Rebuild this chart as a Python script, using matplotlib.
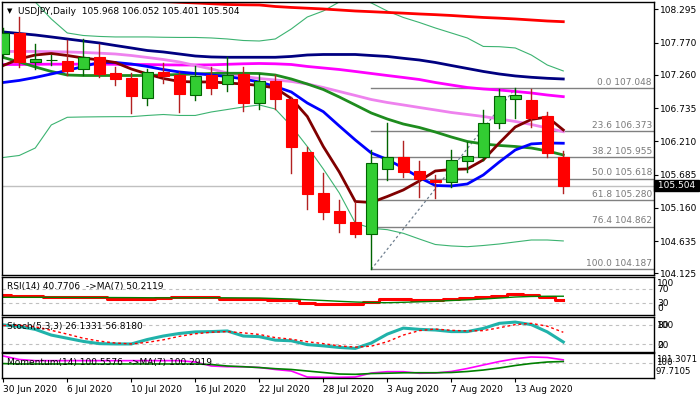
import numpy as np
import matplotlib.pyplot as plt
from matplotlib.patches import Rectangle

# daily bars, USDJPY
dates = ['30 Jun 2020', '1 Jul 2020', '2 Jul 2020', '3 Jul 2020', '6 Jul 2020', '7 Jul 2020',
         '8 Jul 2020', '9 Jul 2020', '10 Jul 2020', '13 Jul 2020', '14 Jul 2020', '15 Jul 2020',
         '16 Jul 2020', '17 Jul 2020', '20 Jul 2020', '21 Jul 2020', '22 Jul 2020', '23 Jul 2020',
         '24 Jul 2020', '27 Jul 2020', '28 Jul 2020', '29 Jul 2020', '30 Jul 2020', '31 Jul 2020',
         '3 Aug 2020', '4 Aug 2020', '5 Aug 2020', '6 Aug 2020', '7 Aug 2020', '10 Aug 2020',
         '11 Aug 2020', '12 Aug 2020', '13 Aug 2020', '14 Aug 2020', '17 Aug 2020', '18 Aug 2020']

opens = [107.584, 107.916, 107.467, 107.490, 107.479, 107.347, 107.537, 107.284, 107.205, 106.889,
         107.309, 107.253, 106.937, 107.253, 107.115, 107.273, 106.810, 107.158, 106.874, 106.036,
         105.389, 105.105, 104.931, 104.741, 105.768, 105.957, 105.736, 105.599, 105.563, 105.894,
         105.957, 106.494, 106.874, 106.862, 106.610, 105.968]
highs = [108.000, 108.178, 107.747, 107.573, 107.810, 107.818, 107.747, 107.388, 107.284, 107.347,
         107.452, 107.309, 107.400, 107.388, 107.537, 107.379, 107.273, 107.253, 106.915, 106.125,
         105.705, 105.283, 105.256, 106.073, 106.494, 106.215, 105.899, 105.678, 106.073, 106.204,
         106.705, 107.032, 107.048, 107.030, 106.668, 106.052]
lows = [107.542, 107.388, 107.347, 107.415, 107.257, 107.257, 107.221, 107.099, 106.652, 106.784,
        107.126, 106.678, 106.855, 106.953, 107.009, 106.694, 106.725, 106.725, 105.705, 105.136,
        104.978, 104.782, 104.694, 104.187, 105.599, 105.642, 105.335, 105.319, 105.493, 105.721,
        105.915, 106.416, 106.573, 106.441, 105.967, 105.401]
closes = [107.926, 107.467, 107.505, 107.498, 107.325, 107.537, 107.268, 107.199, 106.930, 107.300,
          107.246, 106.953, 107.246, 107.047, 107.262, 106.810, 107.167, 106.874, 106.125, 105.383,
          105.098, 104.924, 104.741, 105.863, 105.967, 105.730, 105.610, 105.563, 105.915, 105.973,
          106.494, 106.926, 106.941, 106.583, 106.021, 105.504]

# moving averages on the price chart
ma_red = [108.537, 108.525, 108.513, 108.501, 108.489, 108.478, 108.466, 108.454, 108.442, 108.430,
          108.418, 108.406, 108.395, 108.383, 108.371, 108.366, 108.363, 108.339, 108.324, 108.312,
          108.300, 108.284, 108.268, 108.257, 108.245, 108.234, 108.221, 108.210, 108.197, 108.181,
          108.166, 108.155, 108.142, 108.126, 108.110, 108.099]
ma_navy = [107.937, 107.913, 107.889, 107.858, 107.826, 107.794, 107.763, 107.723, 107.684, 107.644,
           107.621, 107.589, 107.557, 107.542, 107.537, 107.537, 107.537, 107.537, 107.550, 107.573,
           107.581, 107.581, 107.581, 107.565, 107.550, 107.521, 107.494, 107.455, 107.407, 107.360,
           107.313, 107.273, 107.242, 107.221, 107.205, 107.194]
ma_magenta = [107.423, 107.423, 107.426, 107.428, 107.428, 107.428, 107.428, 107.426, 107.423, 107.422,
              107.418, 107.415, 107.415, 107.418, 107.426, 107.434, 107.439, 107.434, 107.423, 107.392,
              107.368, 107.344, 107.313, 107.281, 107.249, 107.218, 107.186, 107.139, 107.099, 107.060,
              107.036, 107.020, 106.997, 106.973, 106.941, 106.915]
ma_violet = [107.629, 107.629, 107.629, 107.625, 107.621, 107.613, 107.602, 107.589, 107.565, 107.534,
             107.502, 107.463, 107.407, 107.352, 107.289, 107.234, 107.202, 107.178, 107.155, 107.115,
             107.060, 106.997, 106.934, 106.870, 106.823, 106.784, 106.744, 106.705, 106.665, 106.634,
             106.602, 106.562, 106.523, 106.475, 106.420, 106.362]
ma_green = [107.534, 107.463, 107.384, 107.313, 107.257, 107.249, 107.249, 107.249, 107.249, 107.249,
            107.257, 107.265, 107.273, 107.281, 107.284, 107.284, 107.281, 107.257, 107.194, 107.115,
            107.028, 106.910, 106.784, 106.657, 106.562, 106.483, 106.428, 106.357, 106.278, 106.207,
            106.168, 106.144, 106.128, 106.104, 106.057, 105.994]
ma_blue = [107.139, 107.171, 107.218, 107.273, 107.329, 107.392, 107.455, 107.455, 107.431, 107.392,
           107.344, 107.305, 107.281, 107.257, 107.234, 107.194, 107.147, 107.076, 106.989, 106.815,
           106.678, 106.452, 106.231, 106.025, 105.923, 105.788, 105.638, 105.512, 105.504, 105.536,
           105.678, 105.883, 106.073, 106.168, 106.183, 106.179]
ma_maroon = [107.407, 107.510, 107.573, 107.597, 107.565, 107.526, 107.494, 107.455, 107.352, 107.273,
             107.202, 107.155, 107.147, 107.147, 107.131, 107.115, 107.092, 107.052, 106.886, 106.602,
             106.128, 105.725, 105.259, 105.244, 105.338, 105.441, 105.583, 105.741, 105.765, 105.773,
             105.915, 106.183, 106.436, 106.555, 106.594, 106.389]
bb_upper = [108.758, 108.600, 108.410, 108.142, 107.921, 107.881, 107.866, 107.858, 107.858, 107.858,
            107.853, 107.850, 107.850, 107.842, 107.826, 107.802, 107.794, 107.826, 107.984, 108.173,
            108.268, 108.410, 108.489, 108.395, 108.268, 108.166, 108.087, 108.000, 107.921, 107.842,
            107.708, 107.704, 107.684, 107.573, 107.415, 107.321]
bb_lower = [105.954, 105.986, 106.104, 106.468, 106.589, 106.594, 106.597, 106.599, 106.599, 106.618,
            106.633, 106.618, 106.618, 106.673, 106.712, 106.752, 106.784, 106.720, 106.452, 106.128,
            105.773, 105.394, 104.920, 104.836, 104.814, 104.757, 104.667, 104.580, 104.557, 104.545,
            104.564, 104.588, 104.620, 104.651, 104.651, 104.636]

# fibonacci retracement
fib_pct = ['0.0', '23.6', '38.2', '50.0', '61.8', '76.4', '100.0']
fib_levels = [107.048, 106.373, 105.955, 105.618, 105.280, 104.862, 104.187]
fib_from, fib_to = 23, 32

price_ticks = [108.295, 107.770, 107.260, 106.735, 106.210, 105.685, 105.160, 104.635, 104.125]
last_price = 105.504

# oscillators
rsi = [53.7, 50.9, 50.9, 47.1, 47.1, 47.1, 47.1, 43.1, 43.1, 43.7, 45.1, 47.1, 47.1, 47.1, 43.1, 43.1,
       43.1, 39.4, 39.4, 31.7, 29.4, 27.1, 27.1, 35.1, 42.3, 42.3, 39.4, 39.4, 40.9, 44.3, 46.6, 50.9,
       56.6, 53.7, 49.4, 40.77]
rsi_ma = [47.1, 47.1, 47.1, 47.1, 46.9, 46.6, 46.6, 46.4, 46.2, 45.9, 45.7, 45.7, 45.9, 45.9, 45.7, 45.4,
          45.1, 43.7, 42.3, 40.0, 38.0, 35.7, 33.7, 32.3, 31.7, 32.9, 34.3, 35.7, 38.0, 40.0, 42.3, 45.1,
          48.0, 49.6, 50.1, 50.21]
stoch_k = [80, 75, 66, 48, 38, 28, 21, 20, 20, 34, 45, 53, 58, 59, 61, 45, 43, 32, 30, 18, 14, 9, 6, 23,
           51, 70, 66, 64, 59, 59, 69, 85, 89, 81, 58, 26.13]
stoch_d = [78, 79, 74, 63, 51, 38, 29, 23, 20, 25, 33, 44, 52, 57, 59, 55, 50, 40, 35, 27, 21, 14, 10, 13,
           27, 48, 62, 67, 63, 61, 62, 71, 81, 85, 76, 56.82]
mom = [101.19, 100.62, 100.43, 100.43, 100.43, 100.43, 100.43, 100.43, 100.43, 100.43, 100.43, 100.43,
       100.21, 99.56, 99.44, 99.44, 99.31, 98.99, 98.74, 97.76, 97.71, 97.71, 97.76, 98.41, 98.63, 98.63,
       98.37, 98.41, 98.66, 99.15, 99.72, 100.29, 100.75, 101.03, 100.95, 100.56]
mom_ma = [99.95, 99.89, 99.89, 99.89, 99.89, 99.89, 99.89, 99.89, 99.89, 99.89, 99.89, 99.89, 99.89,
          99.80, 99.56, 99.44, 99.31, 99.12, 98.99, 98.74, 98.50, 98.25, 98.20, 98.33, 98.38, 98.45,
          98.46, 98.46, 98.50, 98.66, 98.90, 99.23, 99.64, 99.97, 100.21, 100.29]

plt.rcParams['font.family'] = 'DejaVu Sans'
fs = 6.5
W, H = 700, 400

fig = plt.figure(figsize=(7, 4), dpi=100)
fig.patch.set_facecolor('white')


def panel(top, bottom):
    a = fig.add_axes([2 / W, 1 - bottom / H, 652 / W, (bottom - top) / H])
    a.set_facecolor('white')
    for s in a.spines.values():
        s.set_color('black')
        s.set_linewidth(1.0)
    a.set_xlim(-0.08, 40.67)
    a.set_xticks([])
    a.set_yticks([])
    return a


def ftext(xp, yp, s, **kw):
    kw.setdefault('fontsize', fs)
    fig.text(xp / W, 1 - yp / H, s, **kw)


ax = panel(2, 274.5)
ax_rsi = panel(277, 315)
ax_sto = panel(317, 351.5)
ax_mom = panel(353, 378)
x = np.arange(len(closes))

# ---- price chart
ax.set_ylim(104.106, 108.410)
ax.axhline(last_price, color='#C0C0C0', lw=1, zorder=1)
for pct, lev in zip(fib_pct, fib_levels):
    ax.plot([fib_from, 40.67], [lev, lev], color='#808080', lw=1, zorder=1)
    ax.annotate(f'{pct} {lev:.3f}', xy=(40.67, lev), xytext=(-1.5, 1), textcoords='offset points',
                ha='right', va='bottom', fontsize=fs, color='#7A7A7A')
ax.plot([fib_from, fib_to], [fib_levels[-1], fib_levels[0]], color='#708090', lw=0.9,
        dashes=(2, 2), zorder=1)

ax.plot(x, bb_upper, color='#3CB371', lw=0.8, zorder=2)
ax.plot(x, bb_lower, color='#3CB371', lw=0.8, zorder=2)
lines = [(ma_red, '#FF0000'), (ma_navy, '#000080'), (ma_magenta, '#FF00FF'), (ma_violet, '#EE82EE'),
         (ma_green, '#1E8C1E'), (ma_blue, '#0000FF'), (ma_maroon, '#800000')]
for vals, col in lines:
    ax.plot(x, vals, color=col, lw=2.0, zorder=2)

for i in x:
    o, h, l, c = opens[i], highs[i], lows[i], closes[i]
    up = c >= o
    ax.plot([i, i], [l, h], color='#006400' if up else '#B22222', lw=1.0, zorder=3)
    ax.add_patch(Rectangle((i - 0.33, min(o, c)), 0.66, max(abs(c - o), 0.004),
                           facecolor='#32CD32' if up else '#FF0000',
                           edgecolor='#006400' if up else '#FF0000', lw=0.8, zorder=4))

ax.yaxis.tick_right()
ax.set_yticks(price_ticks)
ax.set_yticklabels([f'{p:.3f}' for p in price_ticks])
ax.tick_params(axis='y', right=True, left=False, labelright=True, labelleft=False, length=3,
               width=0.8, pad=1.5, labelsize=fs)

ftext(7, 11, '\u25bc', va='center', fontsize=5)
ftext(18, 11, 'USDJPY,Daily  105.968 106.052 105.401 105.504', va='center')
fig.text(655 / W, 1 - 185.3 / H, ' 105.504 ', fontsize=fs, color='white', va='center', ha='left',
         bbox=dict(facecolor='black', edgecolor='black', pad=0.8))

# ---- RSI
ax_rsi.set_ylim(-3.4, 105.1)
for lv in (70, 30):
    ax_rsi.axhline(lv, color='#C0C0C0', lw=0.8, dashes=(3, 3))
ax_rsi.plot(x, rsi, color='#FF0000', lw=2.2, drawstyle='steps-mid')
ax_rsi.plot(x, rsi_ma, color='#008000', lw=1.0)
ftext(7, 286, 'RSI(14) 40.7706  ->MA(7) 50.2119', va='center')
for s, yp in (('100', 284), ('70', 289.3), ('30', 303.3), ('0', 308.3)):
    ftext(657, yp, s, va='center')

# ---- Stochastic
ax_sto.set_ylim(-3.8, 105.0)
for lv in (80, 20):
    ax_sto.axhline(lv, color='#C0C0C0', lw=0.8, dashes=(3, 3))
ax_sto.plot(x, stoch_k, color='#20B2AA', lw=2.2)
ax_sto.plot(x, stoch_d, color='#FF0000', lw=1.0, dashes=(2, 2))
ftext(7, 327, 'Stoch(5,3,3) 26.1331 56.8180', va='center')
for s, yp in (('100', 325), ('80', 325), ('20', 345), ('0', 345)):
    ftext(657, yp, s, va='center')

# ---- Momentum
ax_mom.set_ylim(97.60, 101.68)
ax_mom.axhline(100, color='#C0C0C0', lw=0.8, dashes=(3, 3))
ax_mom.plot(x, mom, color='#FF00FF', lw=1.2)
ax_mom.plot(x, mom_ma, color='#008000', lw=1.2)
ftext(7, 363, 'Momentum(14) 100.5576  ->MA(7) 100.2919', va='center')
for s, yp in (('101.3071', 359.3), ('100', 362.5), ('97.7105', 371.7)):
    ftext(656, yp, s, va='center', fontsize=6.2)

tick_idx = list(range(0, 33, 4))
ax_mom.set_xticks(tick_idx)
ax_mom.set_xticklabels([dates[i] for i in tick_idx])
ax_mom.tick_params(axis='x', length=3, width=0.8, pad=2, labelsize=fs)
for lbl in ax_mom.get_xticklabels():
    lbl.set_ha('left')

fig.savefig('out.png', dpi=100, facecolor='white')
